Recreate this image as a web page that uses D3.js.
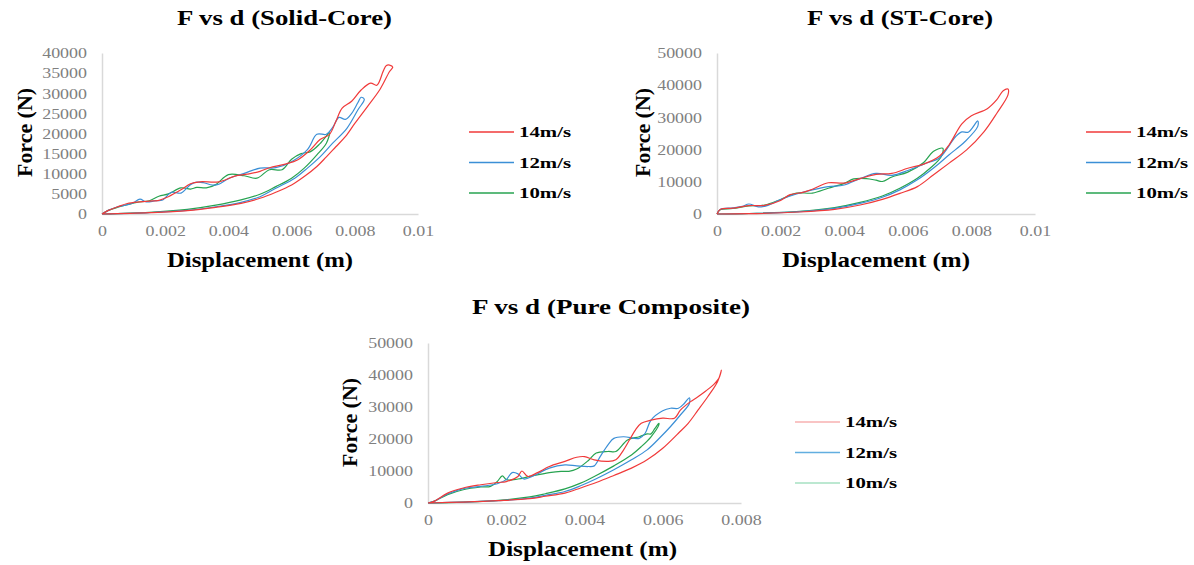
<!DOCTYPE html>
<html>
<head>
<meta charset="utf-8">
<script src="https://cdn.jsdelivr.net/npm/d3@7"></script>
<style>
  body { margin: 0; background: #fff; }
  text { font-family: "Liberation Serif", "Times New Roman", serif; }
</style>
</head>
<body>
<svg id="chart" width="1194" height="565"></svg>
<script>
// series labels and colours
var speeds = ["14m/s", "12m/s", "10m/s"];
var colors = ["#f03a3a", "#3b8fd6", "#27a350"];
var legendColors3 = ["#f7b0b0", "#62aee0", "#a6e0c2"];

// tick values
var xTicks10 = [0, 0.002, 0.004, 0.006, 0.008, 0.01];
var xTicks8 = [0, 0.002, 0.004, 0.006, 0.008];
var yTicks40 = [0, 5000, 10000, 15000, 20000, 25000, 30000, 35000, 40000];
var yTicks50 = [0, 10000, 20000, 30000, 40000, 50000];

// [displacement (m), force (N)] - loading branch then unloading branch
var solid14 = [[0,0],[0.0002,900],[0.0005,1800],[0.0008,2600],[0.0012,3000],[0.0015,3200],[0.0018,3400],[0.0021,4300],[0.0025,6000],[0.0028,7500],[0.0031,8000],[0.0037,8000],[0.0042,9400],[0.0046,9900],[0.005,10600],[0.0053,11500],[0.0058,12400],[0.0062,13500],[0.0066,16000],[0.0069,18500],[0.0072,19800],[0.0074,23000],[0.0076,26300],[0.0079,28000],[0.0082,30800],[0.0085,32500],[0.0087,32000],[0.0089,35500],[0.009,36900],[0.0091,37000],[0.0092,36500],
  [0.0091,35400],[0.0088,31000],[0.0084,26700],[0.008,22500],[0.0077,19200],[0.0074,16700],[0.0071,14200],[0.0068,11800],[0.0064,9300],[0.006,7200],[0.0055,5400],[0.005,3900],[0.0044,2650],[0.0036,1650],[0.0027,830],[0.0015,330],[0,0]];
var solid12 = [[0,0],[0.0002,900],[0.0005,1800],[0.0008,2300],[0.001,2800],[0.0012,3700],[0.0014,3000],[0.0017,3300],[0.0019,3400],[0.0022,5400],[0.0025,5200],[0.0028,7300],[0.003,7900],[0.0032,7800],[0.0035,7200],[0.0037,7400],[0.004,8800],[0.0045,10100],[0.005,11400],[0.0055,11500],[0.006,13000],[0.0065,16000],[0.0068,19800],[0.0071,19800],[0.0073,21500],[0.0075,24000],[0.0077,23500],[0.0079,25000],[0.0081,27700],[0.0082,29000],[0.0083,28500],
  [0.0081,25900],[0.00775,21300],[0.0073,17600],[0.0069,14200],[0.0065,11400],[0.0061,8900],[0.0055,6400],[0.005,4300],[0.0044,2900],[0.0036,1800],[0.0027,900],[0.0015,350],[0,0]];
var solid10 = [[0,0],[0.0002,900],[0.0005,1700],[0.0008,2300],[0.0011,2900],[0.0015,3300],[0.0018,4400],[0.0021,5000],[0.0025,6500],[0.0028,6200],[0.003,6600],[0.0033,6500],[0.0036,7300],[0.004,9800],[0.0045,9500],[0.0049,8900],[0.0053,11000],[0.0057,11000],[0.006,13600],[0.0063,15000],[0.0066,15500],[0.0069,17500],[0.0072,20200],
  [0.0071,17600],[0.0068,14700],[0.0064,11400],[0.006,8900],[0.0055,6800],[0.005,4900],[0.0044,3500],[0.0036,2200],[0.0027,1150],[0.0015,400],[0,0]];

var st14 = [[0,0],[0.0001,1400],[0.0005,1800],[0.001,2600],[0.0015,2700],[0.002,4200],[0.0023,6000],[0.0027,6700],[0.003,7700],[0.0035,9700],[0.004,9600],[0.0045,11000],[0.005,12300],[0.0055,12600],[0.006,14200],[0.0065,15500],[0.007,18000],[0.0073,21500],[0.0077,28000],[0.008,30500],[0.0085,32700],[0.0088,35500],[0.009,38300],[0.00915,38800],
  [0.00915,37000],[0.0088,31300],[0.0084,25600],[0.00785,19900],[0.0073,15800],[0.0068,12100],[0.0063,8500],[0.00575,6400],[0.0052,4550],[0.0045,2800],[0.0037,1450],[0.0026,620],[0.001,100],[0,0]];
var st12 = [[0,0],[0.0001,1400],[0.0005,1900],[0.0008,2400],[0.001,3100],[0.0013,2200],[0.0016,2700],[0.002,4500],[0.0025,6200],[0.003,7500],[0.0035,8500],[0.004,9000],[0.0045,11000],[0.005,12600],[0.0055,12000],[0.006,13500],[0.0065,15500],[0.007,17500],[0.0075,24000],[0.0077,25500],[0.0079,25400],[0.0082,28900],
  [0.0082,27200],[0.0078,22500],[0.0073,18400],[0.0068,14200],[0.0063,10600],[0.00575,7500],[0.0052,5200],[0.0045,3300],[0.0037,1750],[0.0026,750],[0.001,150],[0,0]];
var st10 = [[0,0],[0.0001,1300],[0.0005,1700],[0.001,2500],[0.0015,2800],[0.002,4500],[0.0025,6500],[0.003,6500],[0.0035,8000],[0.004,9500],[0.0043,10900],[0.0047,11000],[0.005,10500],[0.0052,10100],[0.0055,11500],[0.006,13000],[0.0065,16000],[0.0068,19400],[0.0071,20400],
  [0.00705,17800],[0.0067,14200],[0.0063,11100],[0.00575,8000],[0.0052,5600],[0.0045,3600],[0.0037,2000],[0.0026,830],[0.001,150],[0,0]];

var pure14 = [[0,0],[0.00015,520],[0.0005,3100],[0.0009,4700],[0.00135,5700],[0.00177,6400],[0.002,6700],[0.0023,8300],[0.0024,10000],[0.00255,8300],[0.0028,9500],[0.0031,11400],[0.0035,13000],[0.0038,14300],[0.004,14500],[0.00425,13500],[0.0046,13000],[0.0048,13500],[0.005,16600],[0.0053,22800],[0.00545,24900],[0.0057,25900],[0.006,26500],[0.0063,26500],[0.00645,29000],[0.0067,31600],[0.0069,33200],[0.0071,35000],[0.0073,37000],[0.0074,38400],[0.00745,39400],[0.0075,41500],
  [0.0074,37900],[0.00715,33200],[0.0069,29000],[0.00665,24900],[0.0064,21800],[0.006,17100],[0.0056,13500],[0.0052,10900],[0.00475,8600],[0.0043,6400],[0.0039,4700],[0.0035,3100],[0.003,2100],[0.0026,1350],[0.0018,730],[0.0009,300],[0,0]];
var pure12 = [[0,0],[0.00015,500],[0.0005,2800],[0.0009,4500],[0.00135,5200],[0.00177,6000],[0.002,7300],[0.00215,9500],[0.0023,9100],[0.00245,7500],[0.0027,8500],[0.0031,10900],[0.0035,11900],[0.0038,11600],[0.0041,11400],[0.00425,11600],[0.0044,14500],[0.0046,18200],[0.00475,20200],[0.005,20700],[0.0054,20200],[0.00555,21800],[0.0057,25900],[0.006,28800],[0.0062,29600],[0.0064,29600],[0.00655,31100],[0.00668,32900],
  [0.00668,31100],[0.00645,27500],[0.0062,23900],[0.00595,20700],[0.0056,16600],[0.0052,13500],[0.00475,10400],[0.0043,7600],[0.0039,5400],[0.0035,3600],[0.003,2400],[0.0026,1550],[0.0018,730],[0.0009,300],[0,0]];
var pure10 = [[0,0],[0.00015,500],[0.0005,2600],[0.0009,4150],[0.00135,5000],[0.0016,5200],[0.00177,6700],[0.0019,8500],[0.002,7300],[0.0023,7500],[0.0026,8300],[0.0031,9500],[0.0034,9900],[0.0036,9900],[0.0038,10600],[0.0041,13300],[0.0043,15600],[0.0046,16100],[0.0048,16100],[0.0051,19700],[0.0054,20700],[0.0056,21600],[0.0057,21600],[0.0058,23300],[0.0059,24900],
  [0.0059,24400],[0.0057,20700],[0.00545,17600],[0.0052,15000],[0.00475,11600],[0.0043,8600],[0.0039,6200],[0.0035,4400],[0.003,2900],[0.0026,1900],[0.0018,830],[0.0009,300],[0,0]];

// layout of the three panels
var panels = [
  { title: "F vs d (Solid-Core)", series: [solid14, solid12, solid10], xTicks: xTicks10, yTicks: yTicks40,
    px: [102, 418], py: [214, 53], titleX: 284.5, titleY: 25, titleW: 215,
    yLabX: 32, yLabY: 132.5, xLabX: 260, xLabY: 267, xLabW: 186, legX: 469, legY: 132, legColors: colors },
  { title: "F vs d (ST-Core)", series: [st14, st12, st10], xTicks: xTicks10, yTicks: yTicks50,
    px: [717, 1035], py: [214, 53], titleX: 900, titleY: 25, titleW: 186,
    yLabX: 650, yLabY: 132.5, xLabX: 876, xLabY: 267, xLabW: 188, legX: 1086, legY: 132, legColors: colors },
  { title: "F vs d (Pure Composite)", series: [pure14, pure12, pure10], xTicks: xTicks8, yTicks: yTicks50,
    px: [428, 741], py: [503, 343], titleX: 611, titleY: 314, titleW: 278,
    yLabX: 357, yLabY: 422.5, xLabX: 582.5, xLabY: 556, xLabW: 189, legX: 795, legY: 422, legColors: legendColors3 }
];

var svg = d3.select("#chart");
svg.append("rect").attr("width", 1194).attr("height", 565).attr("fill", "#fff");

// horizontally stretch text like the reference image
function stretch(sel, k) {
  sel.each(function () {
    var w = this.getComputedTextLength();
    d3.select(this).attr("textLength", w * k).attr("lengthAdjust", "spacingAndGlyphs");
  });
}

panels.forEach(function (p) {
  var x = d3.scaleLinear().domain([0, d3.max(p.xTicks)]).range(p.px);
  var y = d3.scaleLinear().domain([0, d3.max(p.yTicks)]).range(p.py);
  var g = svg.append("g");

  // axes
  var xa = g.append("g")
    .attr("transform", "translate(0," + p.py[0] + ")")
    .call(d3.axisBottom(x).tickValues(p.xTicks).tickSize(0).tickPadding(14).tickFormat(function (d) { return d === 0 ? "0" : d3.format("")(+d.toFixed(3)); }));
  var ya = g.append("g")
    .attr("transform", "translate(" + p.px[0] + ",0)")
    .call(d3.axisLeft(y).tickValues(p.yTicks).tickSize(0).tickPadding(15).tickFormat(d3.format("d")));
  [xa, ya].forEach(function (a) {
    a.select(".domain").attr("stroke", "#d9d9d9").attr("stroke-width", 1.5);
    a.selectAll("text").attr("fill", "#7f7f7f").style("font-size", "14px")
      .style("font-family", "'Liberation Serif', 'Times New Roman', serif");
    stretch(a.selectAll("text"), 1.28);
  });
  xa.selectAll("text").attr("dy", "0.6em");
  ya.selectAll("text").attr("dy", "0.34em");

  // curves
  var line = d3.line().x(function (d) { return x(d[0]); }).y(function (d) { return y(d[1]); })
    .curve(d3.curveCatmullRom.alpha(0.5));
  [2, 1, 0].forEach(function (i) {
    g.append("path").datum(p.series[i])
      .attr("d", line)
      .attr("fill", "none")
      .attr("stroke", colors[i])
      .attr("stroke-width", 1.2)
      .attr("stroke-linejoin", "round");
  });

  // titles
  g.append("text").attr("x", p.titleX).attr("y", p.titleY)
    .attr("text-anchor", "middle").attr("font-weight", "bold").style("font-size", "22px")
    .attr("textLength", p.titleW).attr("lengthAdjust", "spacingAndGlyphs")
    .text(p.title);
  g.append("text").attr("x", p.xLabX).attr("y", p.xLabY)
    .attr("text-anchor", "middle").attr("font-weight", "bold").style("font-size", "21px")
    .attr("textLength", p.xLabW).attr("lengthAdjust", "spacingAndGlyphs")
    .text("Displacement (m)");
  g.append("text")
    .attr("transform", "translate(" + p.yLabX + "," + p.yLabY + ") rotate(-90)")
    .attr("text-anchor", "middle").attr("font-weight", "bold").style("font-size", "21px")
    .attr("textLength", 89).attr("lengthAdjust", "spacingAndGlyphs")
    .text("Force (N)");

  // legend
  speeds.forEach(function (s, i) {
    var ly = p.legY + i * 30.5;
    g.append("line").attr("x1", p.legX).attr("x2", p.legX + 45).attr("y1", ly).attr("y2", ly)
      .attr("stroke", p.legColors[i]).attr("stroke-width", 1.6);
    g.append("text").attr("x", p.legX + 50).attr("y", ly + 5)
      .attr("font-weight", "bold").style("font-size", "15px")
      .attr("textLength", 52).attr("lengthAdjust", "spacingAndGlyphs")
      .text(s);
  });
});
</script>
</body>
</html>
